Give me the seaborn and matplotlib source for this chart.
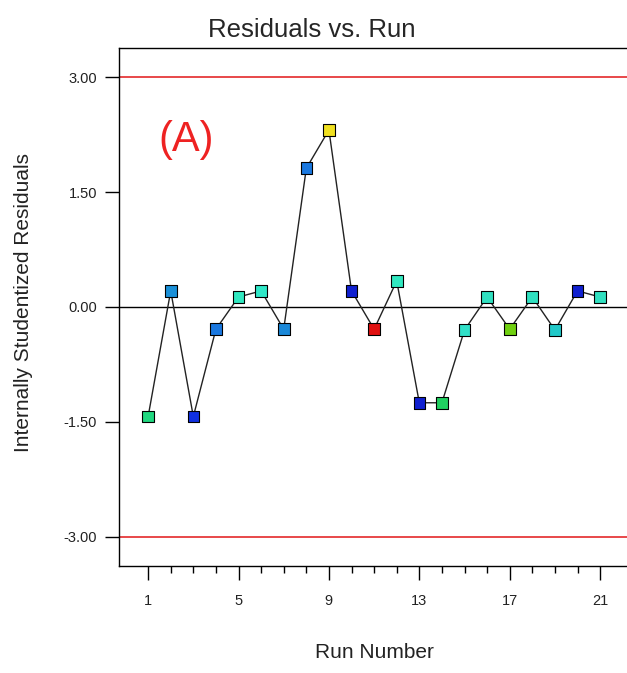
import matplotlib
matplotlib.use("Agg")
import matplotlib.pyplot as plt
import seaborn as sns
import pandas as pd
from matplotlib.ticker import FixedLocator

# data
runs = list(range(1, 22))
residuals = [-1.43, 0.21, -1.43, -0.29, 0.13, 0.21, -0.29, 1.81, 2.31, 0.21,
             -0.29, 0.34, -1.25, -1.25, -0.30, 0.13, -0.29, 0.13, -0.30, 0.21, 0.13]
point_colors = ["#20d880", "#1a90d8", "#1030e0", "#1a78e0", "#30e8c0", "#30e8c8",
                "#1a88d8", "#1a78e0", "#f0e020", "#1020d0", "#e01010", "#30e8c0",
                "#1020d0", "#20d060", "#30e0c8", "#30e0c0", "#70d010", "#30e0c0",
                "#20c8c8", "#1020d0", "#30e0c0"]
limit_lines = [3.0, -3.0]
y_ticks = [-3.0, -1.5, 0.0, 1.5, 3.0]
x_ticks = [1, 5, 9, 13, 17, 21]

df = pd.DataFrame({"run": runs, "resid": residuals})

sns.set_style("white")
plt.rcParams["font.family"] = ["Liberation Sans", "DejaVu Sans"]

fig = plt.figure(figsize=(6.27, 6.73), dpi=100)
ax = fig.add_axes([0.19, 0.159, 0.81, 0.7697])

for v in limit_lines:
    ax.axhline(v, color="#e8474a", lw=1.4, zorder=1)
ax.axhline(0, color="black", lw=1.0, zorder=1)

sns.lineplot(data=df, x="run", y="resid", color="#222222", lw=1.0, ax=ax, zorder=2)
sns.scatterplot(data=df, x="run", y="resid", hue="run",
                palette=dict(zip(runs, point_colors)), marker="s", s=70,
                edgecolor="black", linewidth=0.8, legend=False, ax=ax, zorder=3)

ax.set_xlim(-0.283, 22.19)
ax.set_ylim(-3.38, 3.38)
ax.xaxis.set_major_locator(FixedLocator(x_ticks))
ax.xaxis.set_minor_locator(FixedLocator([r for r in runs if r not in x_ticks]))
ax.set_yticks(y_ticks)
ax.set_yticklabels([f"{t:.2f}" for t in y_ticks])
ax.tick_params(axis="both", which="both", bottom=True, left=True, top=False, right=False)
ax.tick_params(axis="both", which="major", direction="out", length=10, width=1,
               labelsize=10.5, color="black", labelcolor="#222222")
ax.tick_params(axis="x", which="major", pad=10)
ax.tick_params(axis="y", which="major", pad=6)
ax.tick_params(axis="x", which="minor", direction="out", length=5, width=1, color="black")
ax.set_xlabel("")
ax.set_ylabel("")

for side in ["left", "bottom", "top"]:
    ax.spines[side].set_color("black")
    ax.spines[side].set_linewidth(1.0)
ax.spines["right"].set_visible(False)

ax.text(1.44, 2.18, "(A)", color="#ee2222", fontsize=30, va="center", ha="left")

fig.text(0.498, 0.955, "Residuals vs. Run", ha="center", va="center", fontsize=18.5)
fig.text(0.597, 0.016, "Run Number", ha="center", va="bottom", fontsize=15, color="#222222")
fig.text(0.037, 0.55, "Internally Studentized Residuals", rotation=90,
         ha="center", va="center", fontsize=15, color="#222222")

fig.savefig("out.png", dpi=100)
